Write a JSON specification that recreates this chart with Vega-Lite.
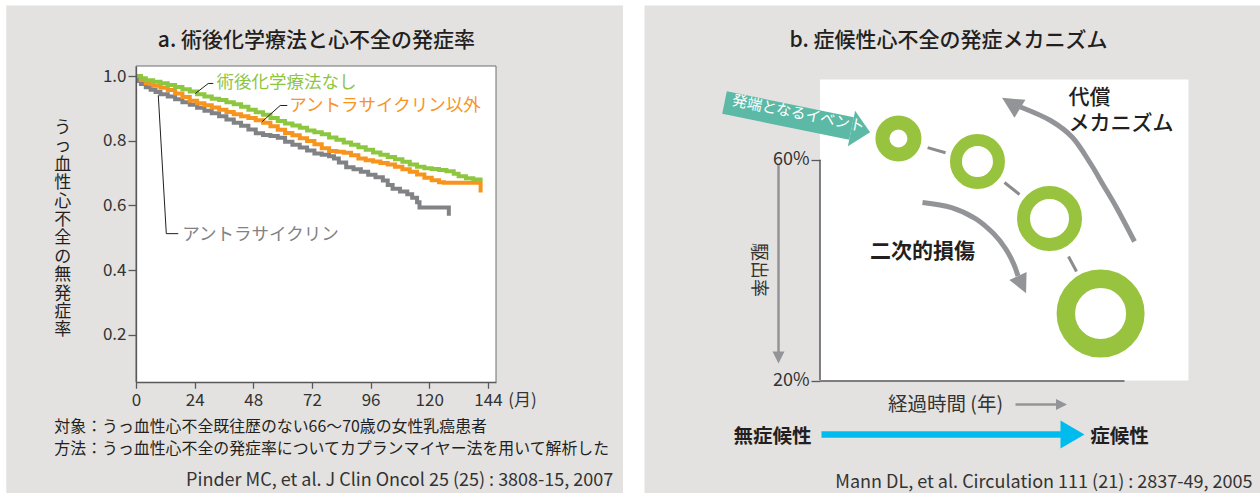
{
  "$schema": "https://vega.github.io/schema/vega-lite/v6.json",
  "background": "#ffffff",
  "padding": {"left": 6, "top": 5, "right": 0, "bottom": 0},
  "spacing": 21,
  "config": {
    "font": "Noto Sans CJK JP",
    "view": {"stroke": null},
    "axis": {"grid": false}
  },
  "datasets": {
    "none": [
      {"month": 0, "rate": 1.0}, {"month": 2, "rate": 0.993}, {"month": 4, "rate": 0.987}, {"month": 7, "rate": 0.982},
      {"month": 10, "rate": 0.978}, {"month": 13, "rate": 0.972}, {"month": 16, "rate": 0.966}, {"month": 19, "rate": 0.959},
      {"month": 22, "rate": 0.952}, {"month": 25, "rate": 0.944}, {"month": 28, "rate": 0.937}, {"month": 31, "rate": 0.93},
      {"month": 34, "rate": 0.926}, {"month": 37, "rate": 0.919}, {"month": 40, "rate": 0.913}, {"month": 43, "rate": 0.905},
      {"month": 46, "rate": 0.896}, {"month": 49, "rate": 0.888}, {"month": 52, "rate": 0.88}, {"month": 55, "rate": 0.87},
      {"month": 58, "rate": 0.861}, {"month": 61, "rate": 0.853}, {"month": 64, "rate": 0.847}, {"month": 67, "rate": 0.84},
      {"month": 70, "rate": 0.832}, {"month": 73, "rate": 0.826}, {"month": 76, "rate": 0.82}, {"month": 79, "rate": 0.81},
      {"month": 82, "rate": 0.803}, {"month": 85, "rate": 0.795}, {"month": 88, "rate": 0.788}, {"month": 91, "rate": 0.78},
      {"month": 94, "rate": 0.772}, {"month": 97, "rate": 0.764}, {"month": 100, "rate": 0.757}, {"month": 103, "rate": 0.75},
      {"month": 106, "rate": 0.743}, {"month": 109, "rate": 0.735}, {"month": 112, "rate": 0.727}, {"month": 115, "rate": 0.72},
      {"month": 118, "rate": 0.715}, {"month": 121, "rate": 0.713}, {"month": 124, "rate": 0.71}, {"month": 127, "rate": 0.706},
      {"month": 130, "rate": 0.698}, {"month": 132, "rate": 0.69}, {"month": 135, "rate": 0.684}, {"month": 138, "rate": 0.68},
      {"month": 141, "rate": 0.676}
    ],
    "nonAnthra": [
      {"month": 0, "rate": 1.0}, {"month": 2, "rate": 0.988}, {"month": 4, "rate": 0.978}, {"month": 7, "rate": 0.97},
      {"month": 10, "rate": 0.964}, {"month": 13, "rate": 0.957}, {"month": 16, "rate": 0.946}, {"month": 19, "rate": 0.935},
      {"month": 22, "rate": 0.924}, {"month": 25, "rate": 0.916}, {"month": 28, "rate": 0.91}, {"month": 31, "rate": 0.903},
      {"month": 34, "rate": 0.896}, {"month": 37, "rate": 0.889}, {"month": 40, "rate": 0.882}, {"month": 43, "rate": 0.876},
      {"month": 46, "rate": 0.87}, {"month": 49, "rate": 0.863}, {"month": 52, "rate": 0.856}, {"month": 55, "rate": 0.845},
      {"month": 58, "rate": 0.834}, {"month": 61, "rate": 0.824}, {"month": 64, "rate": 0.817}, {"month": 67, "rate": 0.808},
      {"month": 70, "rate": 0.799}, {"month": 73, "rate": 0.789}, {"month": 76, "rate": 0.777}, {"month": 79, "rate": 0.768},
      {"month": 82, "rate": 0.766}, {"month": 85, "rate": 0.763}, {"month": 88, "rate": 0.755}, {"month": 91, "rate": 0.745},
      {"month": 94, "rate": 0.74}, {"month": 97, "rate": 0.736}, {"month": 100, "rate": 0.731}, {"month": 103, "rate": 0.727},
      {"month": 106, "rate": 0.72}, {"month": 109, "rate": 0.712}, {"month": 112, "rate": 0.704}, {"month": 115, "rate": 0.696},
      {"month": 118, "rate": 0.686}, {"month": 121, "rate": 0.678}, {"month": 124, "rate": 0.672}, {"month": 126, "rate": 0.67},
      {"month": 141, "rate": 0.64}
    ],
    "anthra": [
      {"month": 0, "rate": 0.997}, {"month": 1, "rate": 0.985}, {"month": 2, "rate": 0.975}, {"month": 4, "rate": 0.965},
      {"month": 6, "rate": 0.958}, {"month": 8, "rate": 0.951}, {"month": 10, "rate": 0.944}, {"month": 13, "rate": 0.937},
      {"month": 16, "rate": 0.928}, {"month": 19, "rate": 0.919}, {"month": 22, "rate": 0.911}, {"month": 25, "rate": 0.902},
      {"month": 28, "rate": 0.893}, {"month": 31, "rate": 0.885}, {"month": 34, "rate": 0.876}, {"month": 37, "rate": 0.866},
      {"month": 40, "rate": 0.856}, {"month": 43, "rate": 0.846}, {"month": 46, "rate": 0.835}, {"month": 49, "rate": 0.823},
      {"month": 52, "rate": 0.818}, {"month": 55, "rate": 0.815}, {"month": 58, "rate": 0.809}, {"month": 61, "rate": 0.797},
      {"month": 64, "rate": 0.788}, {"month": 67, "rate": 0.779}, {"month": 70, "rate": 0.77}, {"month": 73, "rate": 0.761},
      {"month": 76, "rate": 0.757}, {"month": 79, "rate": 0.752}, {"month": 81, "rate": 0.745}, {"month": 83, "rate": 0.733},
      {"month": 86, "rate": 0.718}, {"month": 89, "rate": 0.712}, {"month": 92, "rate": 0.704}, {"month": 95, "rate": 0.695},
      {"month": 98, "rate": 0.687}, {"month": 101, "rate": 0.677}, {"month": 103, "rate": 0.663}, {"month": 105, "rate": 0.652},
      {"month": 108, "rate": 0.643}, {"month": 111, "rate": 0.635}, {"month": 113, "rate": 0.624}, {"month": 115, "rate": 0.61},
      {"month": 116, "rate": 0.594}, {"month": 128, "rate": 0.568}
    ]
  },
  "hconcat": [
    {
      "width": 360,
      "height": 316.2,
      "layer": [
        {
          "data": {"values": [{}]},
          "mark": {"type": "rect", "fill": "#e3e2e0"},
          "encoding": {
            "x": {
              "datum": -53.07, "type": "quantitative",
              "scale": {"domain": [0, 147.3], "nice": false, "zero": false},
              "axis": {
                "values": [0, 24, 48, 72, 96, 120, 144], "title": null, "zindex": 1,
                "domainColor": "#58595b", "domainWidth": 1.3, "tickColor": "#58595b", "tickWidth": 1.3, "tickSize": 6,
                "labelFontSize": 17, "labelColor": "#333333", "labelPadding": 4, "labelFlush": false, "labelOverlap": false
              }
            },
            "x2": {"datum": 199.26},
            "y": {
              "datum": 1.2178, "type": "quantitative",
              "scale": {"domain": [0.054, 1.031], "nice": false, "zero": false},
              "axis": {
                "values": [0.2, 0.4, 0.6, 0.8, 1.0], "format": ".1f", "zindex": 1,
                "domainColor": "#58595b", "domainWidth": 1.3, "tickColor": "#58595b", "tickWidth": 1.3, "tickSize": 8,
                "labelFontSize": 17, "labelColor": "#333333", "labelPadding": 2, "labelFlush": false, "labelOverlap": false,
                "title": ["う", "っ", "血", "性", "心", "不", "全", "の", "無", "発", "症", "率"],
                "titleAngle": 0, "titleAlign": "center", "titleBaseline": "middle",
                "titleX": -73.7, "titleY": 61.5, "titleFontSize": 17, "titleFontWeight": "normal",
                "titleLineHeight": 18.4, "titleColor": "#231f20"
              }
            },
            "y2": {"datum": -0.2898}
          }
        },
        {
          "data": {"values": [{}]},
          "mark": {"type": "rect", "fill": "#ffffff", "stroke": "#6d6e71", "strokeWidth": 1},
          "encoding": {
            "x": {"datum": 0, "type": "quantitative"},
            "x2": {"datum": 147.3},
            "y": {"datum": 0.054, "type": "quantitative"},
            "y2": {"datum": 1.031}
          }
        },
        {
          "data": {"name": "anthra"},
          "mark": {"type": "line", "interpolate": "step-after", "strokeWidth": 4, "color": "#808285"},
          "encoding": {
            "x": {"field": "month", "type": "quantitative"},
            "y": {"field": "rate", "type": "quantitative"}
          }
        },
        {
          "data": {"name": "nonAnthra"},
          "mark": {"type": "line", "interpolate": "step-after", "strokeWidth": 4, "color": "#f7941d"},
          "encoding": {
            "x": {"field": "month", "type": "quantitative"},
            "y": {"field": "rate", "type": "quantitative"}
          }
        },
        {
          "data": {"name": "none"},
          "mark": {"type": "line", "interpolate": "step-after", "strokeWidth": 4, "color": "#8dc63f"},
          "encoding": {
            "x": {"field": "month", "type": "quantitative"},
            "y": {"field": "rate", "type": "quantitative"}
          }
        },
        {
          "data": {"values": [
            {"label": "術後化学療法なし", "seq": 1, "month": 24.26, "rate": 0.946},
            {"label": "術後化学療法なし", "seq": 2, "month": 29.58, "rate": 0.977},
            {"label": "術後化学療法なし", "seq": 3, "month": 31.63, "rate": 0.977},
            {"label": "アントラサイクリン以外", "seq": 1, "month": 51.6, "rate": 0.859},
            {"label": "アントラサイクリン以外", "seq": 2, "month": 59.0, "rate": 0.909},
            {"label": "アントラサイクリン以外", "seq": 3, "month": 61.9, "rate": 0.909},
            {"label": "アントラサイクリン", "seq": 1, "month": 9.12, "rate": 0.94},
            {"label": "アントラサイクリン", "seq": 2, "month": 12.4, "rate": 0.513},
            {"label": "アントラサイクリン", "seq": 3, "month": 17.3, "rate": 0.513}
          ]},
          "mark": {"type": "line", "strokeWidth": 1, "color": "#231f20"},
          "encoding": {
            "x": {"field": "month", "type": "quantitative"},
            "y": {"field": "rate", "type": "quantitative"},
            "detail": {"field": "label"},
            "order": {"field": "seq"}
          }
        },
        {
          "data": {"values": [
            {"label": "術後化学療法なし", "month": 32.9, "rate": 0.977},
            {"label": "アントラサイクリン以外", "month": 62.7, "rate": 0.906},
            {"label": "アントラサイクリン", "month": 18.9, "rate": 0.51}
          ]},
          "mark": {"type": "text", "align": "left", "baseline": "middle", "fontSize": 17.5},
          "encoding": {
            "x": {"field": "month", "type": "quantitative"},
            "y": {"field": "rate", "type": "quantitative"},
            "text": {"field": "label"},
            "color": {
              "field": "label", "type": "nominal", "legend": null,
              "scale": {"domain": ["術後化学療法なし", "アントラサイクリン以外", "アントラサイクリン"], "range": ["#8dc63f", "#f7941d", "#808285"]}
            }
          }
        },
        {
          "data": {"values": [{"text": "a. 術後化学療法と心不全の発症率", "month": 73.8, "rate": 1.1097}]},
          "mark": {"type": "text", "align": "center", "baseline": "middle", "fontSize": 21, "fontWeight": 500, "color": "#231f20"},
          "encoding": {
            "x": {"field": "month", "type": "quantitative"},
            "y": {"field": "rate", "type": "quantitative"},
            "text": {"field": "text"}
          }
        },
        {
          "data": {"values": [
            {"text": "対象：うっ血性心不全既往歴のない66〜70歳の女性乳癌患者", "month": -33.4, "rate": -0.0829},
            {"text": "方法：うっ血性心不全の発症率についてカプランマイヤー法を用いて解析した", "month": -33.4, "rate": -0.1539}
          ]},
          "mark": {"type": "text", "align": "left", "baseline": "middle", "fontSize": 15.9, "color": "#231f20"},
          "encoding": {
            "x": {"field": "month", "type": "quantitative"},
            "y": {"field": "rate", "type": "quantitative"},
            "text": {"field": "text"}
          }
        },
        {
          "data": {"values": [{"text": "(月)", "month": 152.3, "rate": -0.0056}]},
          "mark": {"type": "text", "align": "left", "baseline": "middle", "fontSize": 17, "color": "#333333"},
          "encoding": {
            "x": {"field": "month", "type": "quantitative"},
            "y": {"field": "rate", "type": "quantitative"},
            "text": {"field": "text"}
          }
        },
        {
          "data": {"values": [{"text": "Pinder MC, et al. J Clin Oncol 25 (25) : 3808-15, 2007", "month": 195.3, "rate": -0.2527}]},
          "mark": {"type": "text", "align": "right", "baseline": "middle", "fontSize": 18, "color": "#333333"},
          "encoding": {
            "x": {"field": "month", "type": "quantitative"},
            "y": {"field": "rate", "type": "quantitative"},
            "text": {"field": "text"}
          }
        }
      ]
    },
    {
      "width": 304,
      "height": 314.5,
      "resolve": {"scale": {"size": "independent", "strokeWidth": "independent", "angle": "independent"}},
      "layer": [
        {
          "data": {"values": [{}]},
          "mark": {"type": "rect", "fill": "#e3e2e0"},
          "encoding": {
            "x": {
              "datum": -57.73, "type": "quantitative",
              "scale": {"domain": [0, 100], "nice": false, "zero": false},
              "axis": {"domain": true, "ticks": false, "labels": false, "title": null, "zindex": 1, "domainColor": "#58595b", "domainWidth": 1.5}
            },
            "x2": {"datum": 144.9},
            "y": {
              "datum": 87.96, "type": "quantitative",
              "scale": {"domain": [20, 77.0], "nice": false, "zero": false},
              "axis": {
                "values": [20, 60], "domain": false, "zindex": 1, "title": null,
                "tickColor": "#58595b", "tickWidth": 1.3, "tickSize": 9,
                "labelExpr": "datum.value + '%'", "labelFontSize": 18, "labelColor": "#333333", "labelPadding": 2, "labelFlush": false
              }
            },
            "y2": {"datum": -0.48}
          }
        },
        {
          "data": {"values": [{}]},
          "mark": {"type": "rect", "fill": "#ffffff"},
          "encoding": {
            "x": {"datum": 0, "type": "quantitative"},
            "x2": {"datum": 121.2},
            "y": {"datum": 20, "type": "quantitative"},
            "y2": {"datum": 74.55}
          }
        },
        {
          "data": {"values": [{"u": 0, "e": 20, "e2": 60}]},
          "mark": {"type": "rule", "color": "#58595b", "strokeWidth": 1.5},
          "encoding": {
            "x": {"field": "u", "type": "quantitative"},
            "y": {"field": "e", "type": "quantitative"},
            "y2": {"field": "e2"}
          }
        },
        {
          "data": {"values": [{"u": -31.41, "e": 70.38, "u2": 10.36, "e2": 65.67}]},
          "mark": {"type": "rule", "color": "#5cb9a5", "strokeWidth": 23, "strokeCap": "butt"},
          "encoding": {
            "x": {"field": "u", "type": "quantitative"},
            "y": {"field": "e", "type": "quantitative"},
            "x2": {"field": "u2"},
            "y2": {"field": "e2"}
          }
        },
        {
          "data": {"values": [{"u": 13.42, "e": 65.33}]},
          "mark": {"type": "point", "shape": "M0,-1L1.9,1L-1.9,1Z", "filled": true, "fill": "#5cb9a5", "strokeWidth": 0, "opacity": 1, "size": 361, "angle": 101.5},
          "encoding": {
            "x": {"field": "u", "type": "quantitative"},
            "y": {"field": "e", "type": "quantitative"}
          }
        },
        {
          "data": {"values": [{"text": "発端となるイベント", "u": -7.07, "e": 68.39}]},
          "mark": {"type": "text", "align": "center", "baseline": "middle", "fontSize": 15, "color": "#ffffff", "angle": 11.5},
          "encoding": {
            "x": {"field": "u", "type": "quantitative"},
            "y": {"field": "e", "type": "quantitative"},
            "text": {"field": "text"}
          }
        },
        {
          "data": {"values": [
            {"u": 35.4, "e": 62.21, "u2": 41.3, "e2": 61.27},
            {"u": 60.69, "e": 55.89, "u2": 65.63, "e2": 53.71},
            {"u": 81.74, "e": 42.47, "u2": 84.38, "e2": 39.75}
          ]},
          "mark": {"type": "rule", "color": "#8c8c8c", "strokeWidth": 3},
          "encoding": {
            "x": {"field": "u", "type": "quantitative"},
            "y": {"field": "e", "type": "quantitative"},
            "x2": {"field": "u2"},
            "y2": {"field": "e2"}
          }
        },
        {
          "data": {"values": [
            {"stage": "1", "u": 25.8, "e": 63.86},
            {"stage": "2", "u": 51.8, "e": 59.69},
            {"stage": "3", "u": 75.5, "e": 49.36},
            {"stage": "4", "u": 92.3, "e": 32.14}
          ]},
          "mark": {"type": "point", "shape": "circle", "filled": false, "stroke": "#98c33e", "opacity": 1},
          "encoding": {
            "x": {"field": "u", "type": "quantitative"},
            "y": {"field": "e", "type": "quantitative"},
            "size": {"field": "stage", "type": "nominal", "legend": null, "scale": {"type": "ordinal", "domain": ["1", "2", "3", "4"], "range": [1024, 1849, 2704, 4830]}},
            "strokeWidth": {"field": "stage", "type": "nominal", "legend": null, "scale": {"type": "ordinal", "domain": ["1", "2", "3", "4"], "range": [14, 12, 13, 18.5]}}
          }
        },
        {
          "data": {"values": [
            {"arc": "代償", "seq": 1, "u": 103.45, "e": 45.19},
            {"arc": "代償", "seq": 2, "u": 97.53, "e": 51.35},
            {"arc": "代償", "seq": 3, "u": 93.26, "e": 55.34},
            {"arc": "代償", "seq": 4, "u": 88.98, "e": 59.33},
            {"arc": "代償", "seq": 5, "u": 83.06, "e": 64.04},
            {"arc": "代償", "seq": 6, "u": 75.82, "e": 67.12},
            {"arc": "代償", "seq": 7, "u": 65.95, "e": 69.57},
            {"arc": "二次的損傷", "seq": 1, "u": 33.72, "e": 52.26},
            {"arc": "二次的損傷", "seq": 2, "u": 43.26, "e": 51.35},
            {"arc": "二次的損傷", "seq": 3, "u": 51.15, "e": 49.36},
            {"arc": "二次的損傷", "seq": 4, "u": 57.07, "e": 46.64},
            {"arc": "二次的損傷", "seq": 5, "u": 61.02, "e": 43.92},
            {"arc": "二次的損傷", "seq": 6, "u": 63.65, "e": 41.21},
            {"arc": "二次的損傷", "seq": 7, "u": 65.13, "e": 38.94}
          ]},
          "mark": {"type": "line", "interpolate": "cardinal", "strokeWidth": 5, "color": "#929497"},
          "encoding": {
            "x": {"field": "u", "type": "quantitative"},
            "y": {"field": "e", "type": "quantitative"},
            "detail": {"field": "arc"},
            "order": {"field": "seq"}
          }
        },
        {
          "data": {"values": [
            {"u": -13.65, "e": 59.15, "u2": -13.65, "e2": 25.0},
            {"u": 64.31, "e": 15.65, "u2": 77.8, "e2": 15.65}
          ]},
          "mark": {"type": "rule", "color": "#929497", "strokeWidth": 2.5},
          "encoding": {
            "x": {"field": "u", "type": "quantitative"},
            "y": {"field": "e", "type": "quantitative"},
            "x2": {"field": "u2"},
            "y2": {"field": "e2"}
          }
        },
        {
          "data": {"values": [
            {"arrow": "代償", "u": 62.83, "e": 70.24},
            {"arrow": "二次的損傷", "u": 66.45, "e": 37.38},
            {"arrow": "駆出率", "u": -13.65, "e": 24.17},
            {"arrow": "経過時間", "u": 79.44, "e": 15.65}
          ]},
          "mark": {"type": "point", "shape": "M0,-1L1,1L-1,1Z", "filled": true, "fill": "#929497", "strokeWidth": 0, "opacity": 1},
          "encoding": {
            "x": {"field": "u", "type": "quantitative"},
            "y": {"field": "e", "type": "quantitative"},
            "angle": {"field": "arrow", "type": "nominal", "legend": null, "scale": {"type": "ordinal", "domain": ["代償", "二次的損傷", "駆出率", "経過時間"], "range": [301.4, 154.8, 180, 90]}},
            "size": {"field": "arrow", "type": "nominal", "legend": null, "scale": {"type": "ordinal", "domain": ["代償", "二次的損傷", "駆出率", "経過時間"], "range": [441, 361, 144, 121]}}
          }
        },
        {
          "data": {"values": [{"u": 0.49, "e": 10.21, "u2": 79.77, "e2": 10.21}]},
          "mark": {"type": "rule", "color": "#00bcee", "strokeWidth": 6.5},
          "encoding": {
            "x": {"field": "u", "type": "quantitative"},
            "y": {"field": "e", "type": "quantitative"},
            "x2": {"field": "u2"},
            "y2": {"field": "e2"}
          }
        },
        {
          "data": {"values": [{"u": 83.06, "e": 10.21}]},
          "mark": {"type": "point", "shape": "M0,-1L1.17,1L-1.17,1Z", "filled": true, "fill": "#00bcee", "strokeWidth": 0, "opacity": 1, "size": 576, "angle": 90},
          "encoding": {
            "x": {"field": "u", "type": "quantitative"},
            "y": {"field": "e", "type": "quantitative"}
          }
        },
        {
          "data": {"values": [{"text": "b. 症候性心不全の発症メカニズム", "u": 42.27, "e": 81.62}]},
          "mark": {"type": "text", "align": "center", "baseline": "middle", "fontSize": 21, "fontWeight": 500, "color": "#231f20"},
          "encoding": {
            "x": {"field": "u", "type": "quantitative"},
            "y": {"field": "e", "type": "quantitative"},
            "text": {"field": "text"}
          }
        },
        {
          "data": {"values": [
            {"text": "代償", "u": 81.74, "e": 71.11},
            {"text": "メカニズム", "u": 81.74, "e": 66.4}
          ]},
          "mark": {"type": "text", "align": "left", "baseline": "middle", "fontSize": 21, "fontWeight": 500, "color": "#231f20"},
          "encoding": {
            "x": {"field": "u", "type": "quantitative"},
            "y": {"field": "e", "type": "quantitative"},
            "text": {"field": "text"}
          }
        },
        {
          "data": {"values": [{"text": "二次的損傷", "u": 33.72, "e": 43.2}]},
          "mark": {"type": "text", "align": "center", "baseline": "middle", "fontSize": 21, "fontWeight": "bold", "color": "#231f20"},
          "encoding": {
            "x": {"field": "u", "type": "quantitative"},
            "y": {"field": "e", "type": "quantitative"},
            "text": {"field": "text"}
          }
        },
        {
          "data": {"values": [{"text": "駆出率", "u": -20.39, "e": 40.03}]},
          "mark": {"type": "text", "align": "center", "baseline": "middle", "fontSize": 18, "color": "#333333", "angle": 90},
          "encoding": {
            "x": {"field": "u", "type": "quantitative"},
            "y": {"field": "e", "type": "quantitative"},
            "text": {"field": "text"}
          }
        },
        {
          "data": {"values": [{"text": "経過時間 (年)", "u": 41.28, "e": 15.65}]},
          "mark": {"type": "text", "align": "center", "baseline": "middle", "fontSize": 19.5, "color": "#333333"},
          "encoding": {
            "x": {"field": "u", "type": "quantitative"},
            "y": {"field": "e", "type": "quantitative"},
            "text": {"field": "text"}
          }
        },
        {
          "data": {"values": [
            {"text": "無症候性", "u": -15.63, "e": 9.85},
            {"text": "症候性", "u": 98.52, "e": 9.85}
          ]},
          "mark": {"type": "text", "align": "center", "baseline": "middle", "fontSize": 19.5, "fontWeight": "bold", "color": "#231f20"},
          "encoding": {
            "x": {"field": "u", "type": "quantitative"},
            "y": {"field": "e", "type": "quantitative"},
            "text": {"field": "text"}
          }
        },
        {
          "data": {"values": [{"text": "Mann DL, et al. Circulation 111 (21) : 2837-49, 2005", "u": 142.27, "e": 1.51}]},
          "mark": {"type": "text", "align": "right", "baseline": "middle", "fontSize": 18, "color": "#333333"},
          "encoding": {
            "x": {"field": "u", "type": "quantitative"},
            "y": {"field": "e", "type": "quantitative"},
            "text": {"field": "text"}
          }
        }
      ]
    }
  ]
}
